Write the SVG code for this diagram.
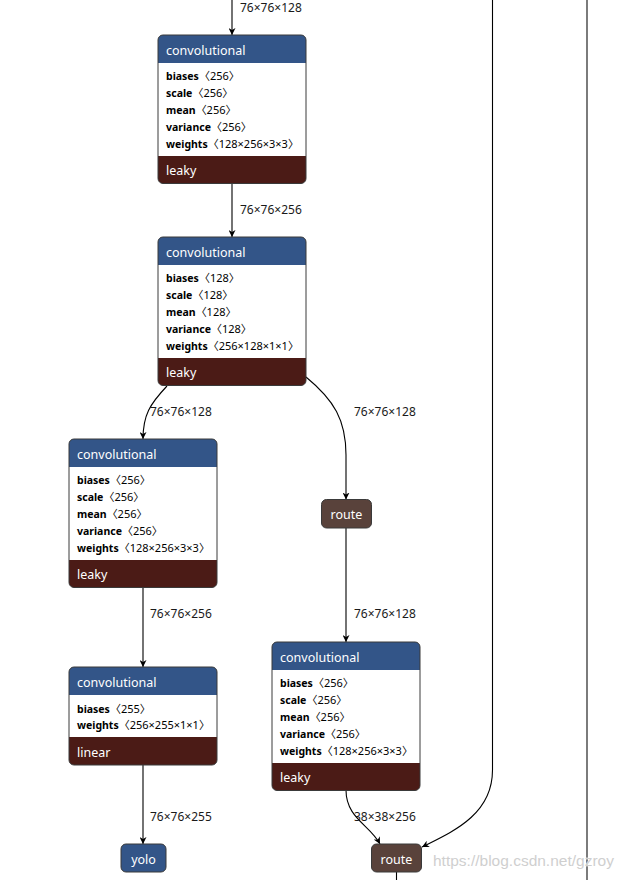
<svg xmlns="http://www.w3.org/2000/svg" width="625" height="880" viewBox="0 0 625 880">
<style>
text{font-family:"Noto Sans","Noto Sans CJK SC",sans-serif}
.hdr{font-size:12.5px;fill:#fff}
.ft{font-size:12.5px;fill:#fff}
.at{font-size:11px;fill:#000}
.at .n{font-weight:bold;font-size:10.5px}
.lbl{font-size:12px;fill:#1a1a1a}
.blue{fill:#335588}
.act{fill:#4b1b16}
.tens{fill:#59423b}
.body{fill:#fff}
.ol{fill:none;stroke:#3a3a3a;stroke-width:1}
.e{fill:none;stroke:#000;stroke-width:1.1}
.wm{font-family:"Liberation Sans",Arial,sans-serif;font-size:15.5px;fill:#cfcfcf;stroke:#fff;stroke-width:0.6;paint-order:stroke}
</style>
<defs>
<marker id="arr" viewBox="0 0 10 10" refX="10" refY="5" markerWidth="7" markerHeight="7" markerUnits="userSpaceOnUse" orient="auto">
<path d="M0,0 L10,5 L0,10 L3,5 z" fill="#000"/>
</marker>
</defs>
<rect width="625" height="880" fill="#fff"/>

<g id="edges">
<path class="e" d="M232,0 V35" marker-end="url(#arr)"/>
<path class="e" d="M232,183 V237" marker-end="url(#arr)"/>
<path class="e" d="M167,386 C150,404 143,415 143,439" marker-end="url(#arr)"/>
<path class="e" d="M306,377 C334,400 346,420 346,455 V499.5" marker-end="url(#arr)"/>
<path class="e" d="M143,587 V667" marker-end="url(#arr)"/>
<path class="e" d="M143,765 V844" marker-end="url(#arr)"/>
<path class="e" d="M346,528 V642" marker-end="url(#arr)"/>
<path class="e" d="M346,790 C346,818 370,825 380,844" marker-end="url(#arr)"/>
<path class="e" d="M492.5,0 V770 C492.5,815 452,832 422,847" marker-end="url(#arr)"/>
<path class="e" d="M396.5,872 V880"/>
<path d="M587,0 V880" fill="none" stroke="#444" stroke-width="1.4"/>
<text class="lbl" x="240" y="11.5">76×76×128</text>
<text class="lbl" x="240" y="214">76×76×256</text>
<text class="lbl" x="150" y="416">76×76×128</text>
<text class="lbl" x="354" y="416">76×76×128</text>
<text class="lbl" x="150" y="618">76×76×256</text>
<text class="lbl" x="354" y="618">76×76×128</text>
<text class="lbl" x="150" y="821">76×76×255</text>
<text class="lbl" x="354" y="821">38×38×256</text>
</g>

<g id="node1" transform="translate(158,35)">
<path class="blue" d="M0,28 V5 A5,5 0 0 1 5,0 H143 A5,5 0 0 1 148,5 V28 Z"/>
<rect class="body" x="0" y="28" width="148" height="93"/>
<path class="act" d="M0,121 H148 V143.5 A5,5 0 0 1 143,148.5 H5 A5,5 0 0 1 0,143.5 Z"/>
<rect class="ol" x="0" y="0" width="148" height="148.5" rx="5"/>
<text class="hdr" x="8" y="19.5">convolutional</text>
<text class="at" x="8" y="45"><tspan class="n">biases</tspan>〈256〉</text>
<text class="at" x="8" y="62"><tspan class="n">scale</tspan>〈256〉</text>
<text class="at" x="8" y="79"><tspan class="n">mean</tspan>〈256〉</text>
<text class="at" x="8" y="96"><tspan class="n">variance</tspan>〈256〉</text>
<text class="at" x="8" y="113"><tspan class="n">weights</tspan>〈128×256×3×3〉</text>
<text class="ft" x="8" y="140">leaky</text>
</g>

<g id="node2" transform="translate(158,237)">
<path class="blue" d="M0,28 V5 A5,5 0 0 1 5,0 H143 A5,5 0 0 1 148,5 V28 Z"/>
<rect class="body" x="0" y="28" width="148" height="93"/>
<path class="act" d="M0,121 H148 V143.5 A5,5 0 0 1 143,148.5 H5 A5,5 0 0 1 0,143.5 Z"/>
<rect class="ol" x="0" y="0" width="148" height="148.5" rx="5"/>
<text class="hdr" x="8" y="19.5">convolutional</text>
<text class="at" x="8" y="45"><tspan class="n">biases</tspan>〈128〉</text>
<text class="at" x="8" y="62"><tspan class="n">scale</tspan>〈128〉</text>
<text class="at" x="8" y="79"><tspan class="n">mean</tspan>〈128〉</text>
<text class="at" x="8" y="96"><tspan class="n">variance</tspan>〈128〉</text>
<text class="at" x="8" y="113"><tspan class="n">weights</tspan>〈256×128×1×1〉</text>
<text class="ft" x="8" y="140">leaky</text>
</g>

<g id="node3" transform="translate(69,439)">
<path class="blue" d="M0,28 V5 A5,5 0 0 1 5,0 H143 A5,5 0 0 1 148,5 V28 Z"/>
<rect class="body" x="0" y="28" width="148" height="93"/>
<path class="act" d="M0,121 H148 V143.5 A5,5 0 0 1 143,148.5 H5 A5,5 0 0 1 0,143.5 Z"/>
<rect class="ol" x="0" y="0" width="148" height="148.5" rx="5"/>
<text class="hdr" x="8" y="19.5">convolutional</text>
<text class="at" x="8" y="45"><tspan class="n">biases</tspan>〈256〉</text>
<text class="at" x="8" y="62"><tspan class="n">scale</tspan>〈256〉</text>
<text class="at" x="8" y="79"><tspan class="n">mean</tspan>〈256〉</text>
<text class="at" x="8" y="96"><tspan class="n">variance</tspan>〈256〉</text>
<text class="at" x="8" y="113"><tspan class="n">weights</tspan>〈128×256×3×3〉</text>
<text class="ft" x="8" y="140">leaky</text>
</g>

<g id="node4" transform="translate(69,667)">
<path class="blue" d="M0,28 V5 A5,5 0 0 1 5,0 H143 A5,5 0 0 1 148,5 V28 Z"/>
<rect class="body" x="0" y="28" width="148" height="42"/>
<path class="act" d="M0,70 H148 V93 A5,5 0 0 1 143,98 H5 A5,5 0 0 1 0,93 Z"/>
<rect class="ol" x="0" y="0" width="148" height="98" rx="5"/>
<text class="hdr" x="8" y="19.5">convolutional</text>
<text class="at" x="8" y="45.5"><tspan class="n">biases</tspan>〈255〉</text>
<text class="at" x="8" y="62"><tspan class="n">weights</tspan>〈256×255×1×1〉</text>
<text class="ft" x="8" y="89.5">linear</text>
</g>

<g id="node5" transform="translate(272,642)">
<path class="blue" d="M0,28 V5 A5,5 0 0 1 5,0 H143 A5,5 0 0 1 148,5 V28 Z"/>
<rect class="body" x="0" y="28" width="148" height="93"/>
<path class="act" d="M0,121 H148 V143.5 A5,5 0 0 1 143,148.5 H5 A5,5 0 0 1 0,143.5 Z"/>
<rect class="ol" x="0" y="0" width="148" height="148.5" rx="5"/>
<text class="hdr" x="8" y="19.5">convolutional</text>
<text class="at" x="8" y="45"><tspan class="n">biases</tspan>〈256〉</text>
<text class="at" x="8" y="62"><tspan class="n">scale</tspan>〈256〉</text>
<text class="at" x="8" y="79"><tspan class="n">mean</tspan>〈256〉</text>
<text class="at" x="8" y="96"><tspan class="n">variance</tspan>〈256〉</text>
<text class="at" x="8" y="113"><tspan class="n">weights</tspan>〈128×256×3×3〉</text>
<text class="ft" x="8" y="140">leaky</text>
</g>

<g id="route1">
<rect class="tens" x="321.5" y="499.5" width="50" height="28.5" rx="5" stroke="#3a3a3a" stroke-width="1"/>
<text class="hdr" x="346.5" y="519" text-anchor="middle">route</text>
</g>

<g id="yolo">
<rect class="blue" x="121" y="844" width="45" height="28" rx="5" stroke="#3a3a3a" stroke-width="1"/>
<text class="hdr" x="143.5" y="863.5" text-anchor="middle">yolo</text>
</g>

<g id="route2">
<rect class="tens" x="371.5" y="844" width="50" height="28" rx="5" stroke="#3a3a3a" stroke-width="1"/>
<text class="hdr" x="396.5" y="863.5" text-anchor="middle">route</text>
</g>

<text class="wm" x="433" y="866">https://blog.csdn.net/gzroy</text>
</svg>
